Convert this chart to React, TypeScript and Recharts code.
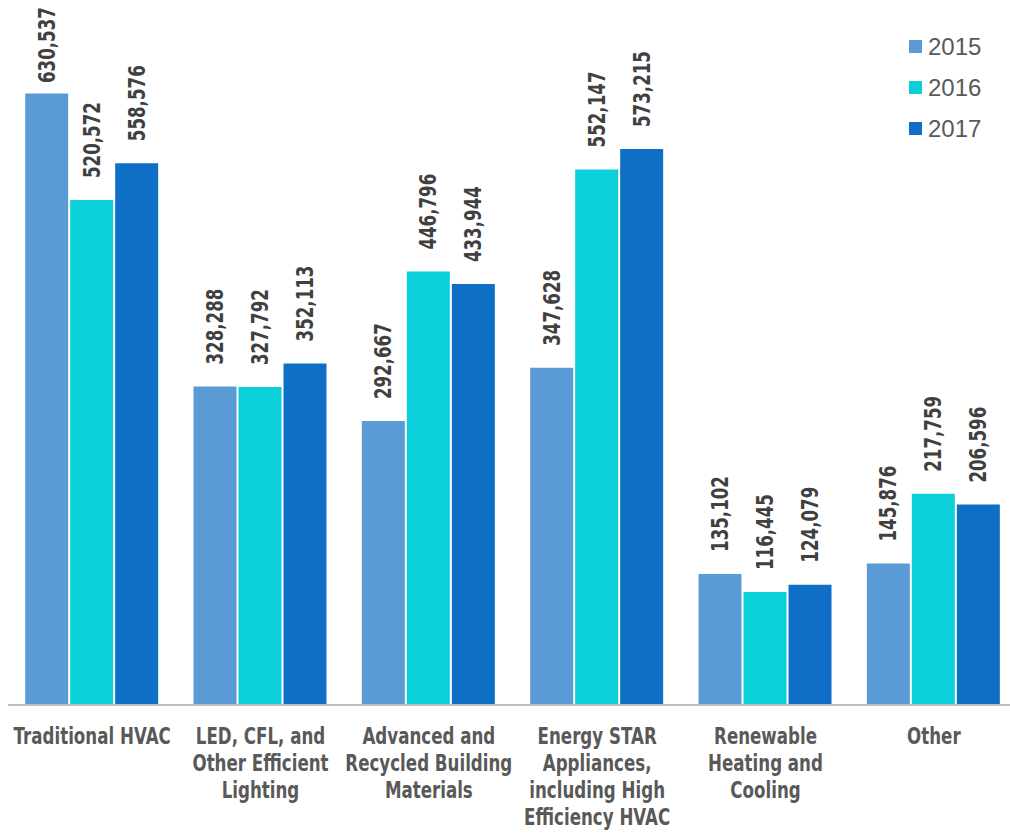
import React from "react";
import { BarChart, Bar, XAxis, YAxis, LabelList } from "recharts";

// ─── Data ─────────────────────────────────────────────────────────────────────

const categories = [
  "Traditional HVAC",
  "LED, CFL, and Other Efficient Lighting",
  "Advanced and Recycled Building Materials",
  "Energy STAR Appliances, including High Efficiency HVAC",
  "Renewable Heating and Cooling",
  "Other",
];

// how the category names wrap under the axis
const categoryLines = [
  ["Traditional HVAC"],
  ["LED, CFL, and", "Other Efficient", "Lighting"],
  ["Advanced and", "Recycled Building", "Materials"],
  ["Energy STAR", "Appliances,", "including High", "Efficiency HVAC"],
  ["Renewable", "Heating and", "Cooling"],
  ["Other"],
];

const values2015 = [630537, 328288, 292667, 347628, 135102, 145876];
const values2016 = [520572, 327792, 446796, 552147, 116445, 217759];
const values2017 = [558576, 352113, 433944, 573215, 124079, 206596];

const seriesNames = ["2015", "2016", "2017"];
const seriesColors = ["#5B9BD5", "#0BD0D9", "#0F6FC6"];

const rows = categories.map((c, i) => ({
  name: c,
  y2015: values2015[i],
  y2016: values2016[i],
  y2017: values2017[i],
}));

// ─── Helpers ──────────────────────────────────────────────────────────────────

// no condensed face installed, so squeeze DejaVu Sans Bold along the text
const FONT = '"DejaVu Sans", sans-serif';
const SQUEEZE = 0.725;

function fmt(v: number) {
  return v.toLocaleString("en-US");
}

function ValueLabel(props: any) {
  const { x, y, width, value } = props;
  const cx = x + width / 2;
  // keep tall labels inside the top of the chart
  const base = Math.max(y - 22, 83);
  return (
    <g transform={`translate(${cx}, ${base}) rotate(-90) scale(${SQUEEZE}, 1)`}>
      <text
        x={0}
        y={0}
        textAnchor="start"
        dominantBaseline="central"
        fill="#404040"
        fontFamily={FONT}
        fontWeight="bold"
        fontSize={23}
      >
        {fmt(value)}
      </text>
    </g>
  );
}

function CategoryTick(props: any) {
  const { x, y, payload } = props;
  const idx = categories.indexOf(payload.value);
  const lines = categoryLines[idx] ?? [payload.value];
  return (
    <g transform={`translate(${x}, ${y + 39}) scale(${SQUEEZE}, 1)`}>
      <text
        x={0}
        y={0}
        textAnchor="middle"
        fill="#595959"
        fontFamily={FONT}
        fontWeight="bold"
        fontSize={23}
      >
        {lines.map((l, i) => (
          <tspan key={i} x={0} dy={i === 0 ? 0 : 27}>
            {l}
          </tspan>
        ))}
      </text>
    </g>
  );
}

// ─── Component ────────────────────────────────────────────────────────────────

export default function App() {
  return (
    <div style={{ position: "absolute", left: 0, top: 0, width: 1010, height: 833, background: "#fff" }}>
      <BarChart
        width={1010}
        height={833}
        data={rows}
        margin={{ top: 26, right: -8, left: 8, bottom: 8 }}
        barCategoryGap="10.2%"
        barGap={2}
      >
        <XAxis
          dataKey="name"
          interval={0}
          tickLine={false}
          tickSize={0}
          tickMargin={0}
          axisLine={{ stroke: "#BFBFBF", strokeWidth: 2 }}
          tick={<CategoryTick />}
          height={120}
        />
        <YAxis hide domain={[0, 700000]} />
        <Bar dataKey="y2015" name={seriesNames[0]} fill={seriesColors[0]} isAnimationActive={false}>
          <LabelList dataKey="y2015" content={<ValueLabel />} />
        </Bar>
        <Bar dataKey="y2016" name={seriesNames[1]} fill={seriesColors[1]} isAnimationActive={false}>
          <LabelList dataKey="y2016" content={<ValueLabel />} />
        </Bar>
        <Bar dataKey="y2017" name={seriesNames[2]} fill={seriesColors[2]} isAnimationActive={false}>
          <LabelList dataKey="y2017" content={<ValueLabel />} />
        </Bar>
      </BarChart>

      {/* legend, top right */}
      <div
        style={{
          position: "absolute",
          left: 909,
          top: 26,
          fontFamily: '"Liberation Sans", Arial, sans-serif',
          fontSize: 24,
          color: "#595959",
        }}
      >
        {seriesNames.map((n, i) => (
          <div key={n} style={{ display: "flex", alignItems: "center", height: 41 }}>
            <span
              style={{
                display: "inline-block",
                width: 13,
                height: 13,
                background: seriesColors[i],
                marginRight: 6,
              }}
            />
            <span>{n}</span>
          </div>
        ))}
      </div>
    </div>
  );
}
